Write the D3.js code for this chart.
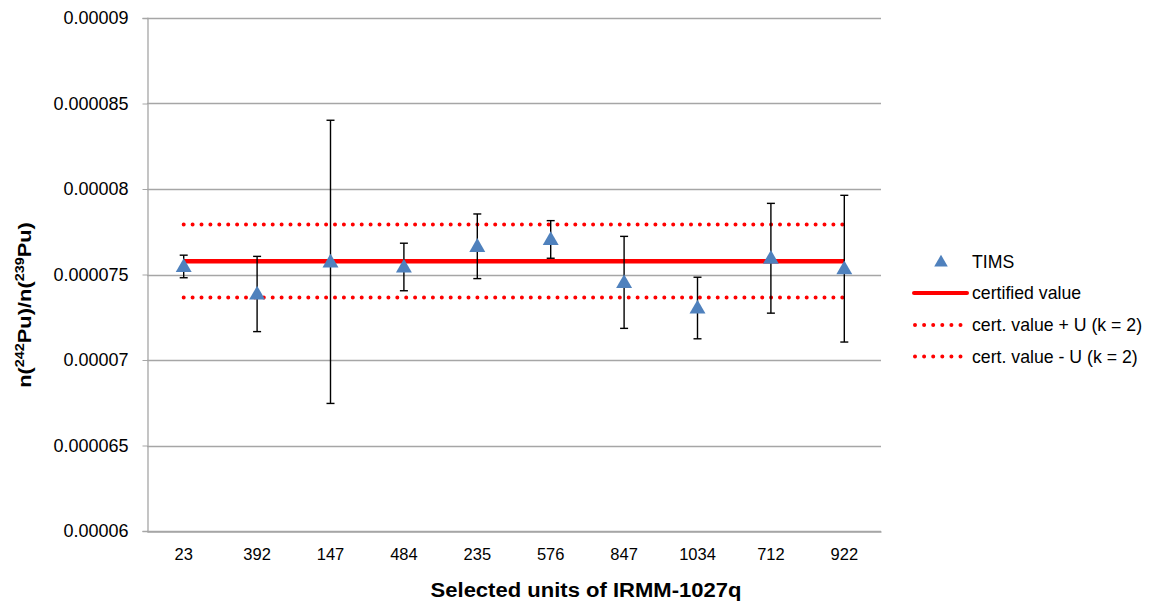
<!DOCTYPE html>
<html>
<head>
<meta charset="utf-8">
<script src="https://cdn.jsdelivr.net/npm/d3@7"></script>
<style>
  body { margin: 0; background: #fff; }
  svg { font-family: "Liberation Sans", Arial, sans-serif; }
</style>
</head>
<body>
<div id="chart"></div>
<script>
// data
const units = ['23', '392', '147', '484', '235', '576', '847', '1034', '712', '922'];
const timsValues = [0.00007547, 0.00007386, 0.00007574, 0.00007544, 0.00007665, 0.00007705, 0.00007454, 0.00007304, 0.00007595, 0.00007534];
const timsErrors = [0.00000066, 0.00000220, 0.00000828, 0.00000139, 0.00000189, 0.00000110, 0.00000269, 0.00000180, 0.00000321, 0.00000429];
const certifiedValue = 0.00007577;
const certUpper = 0.00007792;
const certLower = 0.00007366;
const yTicks = [0.00006, 0.000065, 0.00007, 0.000075, 0.00008, 0.000085, 0.00009];
const yTickLabels = ['0.00006', '0.000065', '0.00007', '0.000075', '0.00008', '0.000085', '0.00009'];

const width = 1152, height = 606;
const margin = { top: 18, right: 271, bottom: 75, left: 147 };

const svg = d3.select('#chart').append('svg')
    .attr('width', width)
    .attr('height', height);

const x = d3.scaleBand()
    .domain(units)
    .range([margin.left, width - margin.right]);

const y = d3.scaleLinear()
    .domain([0.00006, 0.00009])
    .range([height - margin.bottom, margin.top]);

const cx = d => x(d) + x.bandwidth() / 2;

// gridlines
svg.append('g')
    .selectAll('line')
    .data(yTicks)
    .enter()
    .append('line')
    .attr('x1', margin.left)
    .attr('x2', width - margin.right)
    .attr('y1', d => Math.round(y(d)) + 0.5)
    .attr('y2', d => Math.round(y(d)) + 0.5)
    .attr('stroke', '#a6a6a6')
    .attr('stroke-width', 1.3);

// y axis
const yAxis = svg.append('g')
    .attr('transform', `translate(${margin.left + 0.5},0)`)
    .call(d3.axisLeft(y)
        .tickValues(yTicks)
        .tickSize(5)
        .tickPadding(14)
        .tickFormat((d, i) => yTickLabels[i]));
yAxis.select('.domain').attr('stroke', '#a6a6a6').attr('stroke-width', 1.3);
yAxis.selectAll('.tick line').attr('stroke', '#a6a6a6');
yAxis.selectAll('text')
    .style('font-size', '18px')
    .attr('fill', '#000')
    .style('font-family', '"Liberation Sans", Arial, sans-serif');

// x axis
const xAxis = svg.append('g')
    .attr('transform', `translate(0,${height - margin.bottom + 0.5})`)
    .call(d3.axisBottom(x).tickSize(0).tickPadding(17));
xAxis.select('.domain').attr('stroke', '#a6a6a6').attr('stroke-width', 1.3);
xAxis.selectAll('text')
    .style('font-size', '16.5px')
    .attr('fill', '#000')
    .style('font-family', '"Liberation Sans", Arial, sans-serif');

// reference lines
const xStart = cx(units[0]), xEnd = cx(units[units.length - 1]);
svg.append('line')
    .attr('x1', xStart).attr('x2', xEnd)
    .attr('y1', y(certUpper)).attr('y2', y(certUpper))
    .attr('stroke', '#ff0000')
    .attr('stroke-width', 4)
    .attr('stroke-linecap', 'round')
    .attr('stroke-dasharray', '0 8.9');
svg.append('line')
    .attr('x1', xStart).attr('x2', xEnd)
    .attr('y1', y(certLower)).attr('y2', y(certLower))
    .attr('stroke', '#ff0000')
    .attr('stroke-width', 4)
    .attr('stroke-linecap', 'round')
    .attr('stroke-dasharray', '0 8.9');
svg.append('line')
    .attr('x1', xStart).attr('x2', xEnd)
    .attr('y1', y(certifiedValue)).attr('y2', y(certifiedValue))
    .attr('stroke', '#ff0000')
    .attr('stroke-width', 4.5);

// error bars
const pts = units.map((u, i) => ({ u: u, v: timsValues[i], e: timsErrors[i] }));
const err = svg.append('g').selectAll('g')
    .data(pts)
    .enter()
    .append('g')
    .attr('stroke', '#000')
    .attr('stroke-width', 1.4);
err.append('line')
    .attr('x1', d => cx(d.u)).attr('x2', d => cx(d.u))
    .attr('y1', d => y(d.v + d.e)).attr('y2', d => y(d.v - d.e));
err.append('line')
    .attr('x1', d => cx(d.u) - 4).attr('x2', d => cx(d.u) + 4)
    .attr('y1', d => y(d.v + d.e)).attr('y2', d => y(d.v + d.e));
err.append('line')
    .attr('x1', d => cx(d.u) - 4).attr('x2', d => cx(d.u) + 4)
    .attr('y1', d => y(d.v - d.e)).attr('y2', d => y(d.v - d.e));

// triangle markers
const tri = d3.symbol().type(d3.symbolTriangle).size(110);
svg.append('g').selectAll('path')
    .data(pts)
    .enter()
    .append('path')
    .attr('d', tri)
    .attr('transform', d => `translate(${cx(d.u)},${y(d.v) + 1})`)
    .attr('fill', '#4f81bd');

// axis titles
svg.append('text')
    .attr('transform', 'translate(586,597) scale(1.13,1)')
    .attr('text-anchor', 'middle')
    .style('font-size', '19.5px')
    .style('font-weight', 'bold')
    .text('Selected units of IRMM-1027q');

const yTitle = svg.append('text')
    .attr('transform', 'translate(31,305) rotate(-90) scale(1.15,1)')
    .attr('text-anchor', 'middle')
    .style('font-size', '19px')
    .style('font-weight', 'bold');
yTitle.append('tspan').text('n(');
yTitle.append('tspan').text('242').style('font-size', '12.5px').attr('dy', -7);
yTitle.append('tspan').text('Pu)/n(').attr('dy', 7);
yTitle.append('tspan').text('239').style('font-size', '12.5px').attr('dy', -7);
yTitle.append('tspan').text('Pu)').attr('dy', 7);

// legend
const legend = svg.append('g').attr('transform', 'translate(913,0)');
const rows = [
    { label: 'TIMS', y: 261.5, type: 'tri' },
    { label: 'certified value', y: 293, type: 'solid' },
    { label: 'cert. value + U (k = 2)', y: 325, type: 'dot' },
    { label: 'cert. value - U (k = 2)', y: 356.5, type: 'dot' }
];
rows.forEach(r => {
    if (r.type === 'tri') {
        legend.append('path')
            .attr('d', d3.symbol().type(d3.symbolTriangle).size(80))
            .attr('transform', `translate(28,${r.y + 1})`)
            .attr('fill', '#4f81bd');
    } else if (r.type === 'solid') {
        legend.append('line')
            .attr('x1', 1).attr('x2', 54)
            .attr('y1', r.y).attr('y2', r.y)
            .attr('stroke', '#ff0000')
            .attr('stroke-width', 4)
            .attr('stroke-linecap', 'round');
    } else {
        legend.append('line')
            .attr('x1', 2).attr('x2', 49)
            .attr('y1', r.y).attr('y2', r.y)
            .attr('stroke', '#ff0000')
            .attr('stroke-width', 4)
            .attr('stroke-linecap', 'round')
            .attr('stroke-dasharray', '0 9.1');
    }
    legend.append('text')
        .attr('x', 59)
        .attr('y', r.y)
        .attr('dy', '0.35em')
        .style('font-size', '17.7px')
        .text(r.label);
});
</script>
</body>
</html>
